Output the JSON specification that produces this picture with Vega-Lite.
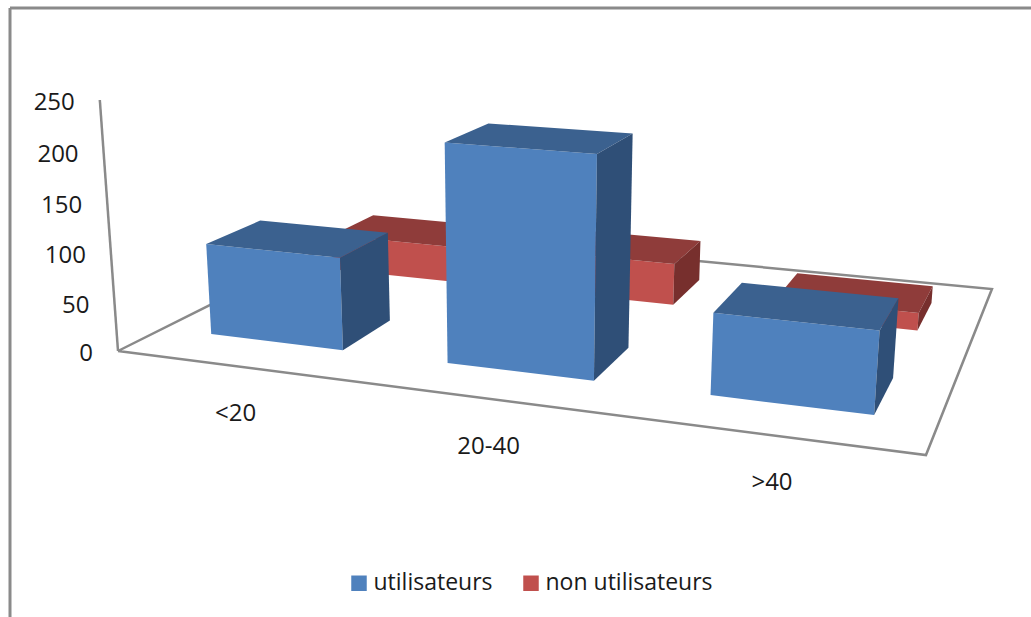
{
  "$schema": "https://vega.github.io/schema/vega-lite/v6.json",
  "width": 1021.5,
  "height": 609.5,
  "padding": {"left": 9.5, "top": 7.5, "right": 0, "bottom": 0},
  "autosize": "none",
  "background": "white",
  "config": {"view": {"stroke": null}, "font": "Open Sans"},
  "datasets": {
    "bars": [
      {"age": "<20", "group": "non utilisateurs", "value": 41},
      {"age": "20-40", "group": "non utilisateurs", "value": 46},
      {"age": ">40", "group": "non utilisateurs", "value": 19},
      {"age": "<20", "group": "utilisateurs", "value": 95},
      {"age": "20-40", "group": "utilisateurs", "value": 217},
      {"age": ">40", "group": "utilisateurs", "value": 79}
    ],
    "floor": [{"corner": 0}, {"corner": 1}, {"corner": 2}, {"corner": 3}, {"corner": 4}],
    "wall": [{"h": 0}, {"h": 250}],
    "ticks": [{"h": 0}, {"h": 50}, {"h": 100}, {"h": 150}, {"h": 200}, {"h": 250}],
    "ages": [{"age": "<20", "u": 0.1667}, {"age": "20-40", "u": 0.5}, {"age": ">40", "u": 0.8333}]
  },
  "encoding": {
    "x": {"field": "px", "type": "quantitative", "scale": {"domain": [9.5, 1031], "nice": false, "zero": false}, "axis": {"orient": "top", "title": null, "labels": false, "ticks": false, "grid": false, "domain": true, "domainColor": "#8a8a8a", "domainWidth": 3}},
    "y": {"field": "py", "type": "quantitative", "scale": {"domain": [617, 7.5], "nice": false, "zero": false}, "axis": {"orient": "left", "title": null, "labels": false, "ticks": false, "grid": false, "domain": true, "domainColor": "#8a8a8a", "domainWidth": 3}}
  },
  "layer": [
    {
      "data": {"name": "floor"},
      "transform": [
        {"calculate": "[0,1,1,0,0][datum.corner]", "as": "u"},
        {"calculate": "[0,0,1,1,0][datum.corner]", "as": "w"},
        {"calculate": "1-0.15699*datum.u+0.29899*datum.w", "as": "W"},
        {"calculate": "(662.6*datum.u+352.2*datum.w+118)/datum.W", "as": "px"},
        {"calculate": "(32.6*datum.u-53.5*datum.w+351)/datum.W", "as": "py"}
      ],
      "mark": {"type": "line", "stroke": "#8a8a8a", "strokeWidth": 2.5},
      "encoding": {"order": {"field": "corner"}}
    },
    {
      "data": {"name": "wall"},
      "transform": [
        {"calculate": "1-0.0001731*datum.h", "as": "W"},
        {"calculate": "(118-0.09*datum.h)/datum.W", "as": "px"},
        {"calculate": "(351-1.0213*datum.h)/datum.W", "as": "py"}
      ],
      "mark": {"type": "line", "stroke": "#8a8a8a", "strokeWidth": 2.5},
      "encoding": {"order": {"field": "h"}}
    },
    {
      "data": {"name": "bars"},
      "transform": [
        {"calculate": "indexof(['<20','20-40','>40'],datum.age)", "as": "i"},
        {"calculate": "datum.group==='utilisateurs'?0:1", "as": "j"},
        {"calculate": "['front','top','right']", "as": "face"},
        {"flatten": ["face"]},
        {"calculate": "[0,1,2,3]", "as": "corner"},
        {"flatten": ["corner"]},
        {"calculate": "datum.face==='right'?1:[0,1,1,0][datum.corner]", "as": "cu"},
        {"calculate": "datum.face==='front'?0:datum.face==='top'?[0,0,1,1][datum.corner]:[0,1,1,0][datum.corner]", "as": "cw"},
        {"calculate": "datum.face==='top'?1:[1,1,0,0][datum.corner]", "as": "ch"},
        {"calculate": "(datum.i+0.5)/3+(datum.cu-0.5)*0.19", "as": "u"},
        {"calculate": "(datum.j+0.5)/2+(datum.cw-0.5)*0.2", "as": "w"},
        {"calculate": "datum.ch*datum.value", "as": "h"},
        {"calculate": "1-0.15699*datum.u+0.29899*datum.w-0.0001731*datum.h", "as": "W"},
        {"calculate": "(662.6*datum.u+352.2*datum.w+118-0.09*datum.h)/datum.W", "as": "px"},
        {"calculate": "(32.6*datum.u-53.5*datum.w+351-1.0213*datum.h)/datum.W", "as": "py"},
        {"calculate": "datum.face==='front'?datum.group:datum.group+' '+datum.face", "as": "shade"},
        {"calculate": "datum.group+datum.age+datum.face", "as": "key"}
      ],
      "mark": {"type": "line", "stroke": "transparent", "strokeWidth": 0},
      "encoding": {
        "order": {"field": "corner"},
        "detail": {"field": "key"},
        "fill": {
          "field": "shade",
          "type": "nominal",
          "scale": {
            "domain": ["utilisateurs", "non utilisateurs", "utilisateurs top", "utilisateurs right", "non utilisateurs top", "non utilisateurs right"],
            "range": ["#4F81BD", "#C0504D", "#3B618F", "#2F4F77", "#8F3C3A", "#772F2D"]
          },
          "legend": {
            "values": ["utilisateurs", "non utilisateurs"],
            "title": null,
            "orient": "none",
            "legendX": 338,
            "legendY": 564,
            "direction": "horizontal",
            "columns": 2,
            "symbolType": "square",
            "symbolSize": 240,
            "symbolStrokeWidth": 0,
            "labelFontSize": 23,
            "labelColor": "#1a1a1a",
            "labelOffset": 3,
            "columnPadding": 26,
            "labelLimit": 300
          }
        }
      }
    },
    {
      "data": {"name": "ticks"},
      "transform": [
        {"calculate": "1-0.0001731*datum.h", "as": "W"},
        {"calculate": "(118-0.09*datum.h)/datum.W", "as": "px"},
        {"calculate": "(351-1.0213*datum.h)/datum.W", "as": "py"}
      ],
      "mark": {"type": "text", "align": "right", "baseline": "middle", "dx": -25, "dy": 3, "fontSize": 24, "color": "#1a1a1a"},
      "encoding": {"text": {"field": "h", "type": "quantitative"}}
    },
    {
      "data": {"name": "ages"},
      "transform": [
        {"calculate": "1-0.15699*datum.u", "as": "W"},
        {"calculate": "(662.6*datum.u+118)/datum.W", "as": "px"},
        {"calculate": "(32.6*datum.u+351)/datum.W", "as": "py"}
      ],
      "mark": {"type": "text", "align": "center", "baseline": "middle", "dx": 1, "dy": 48, "fontSize": 24, "color": "#1a1a1a"},
      "encoding": {"text": {"field": "age", "type": "nominal"}}
    }
  ]
}
